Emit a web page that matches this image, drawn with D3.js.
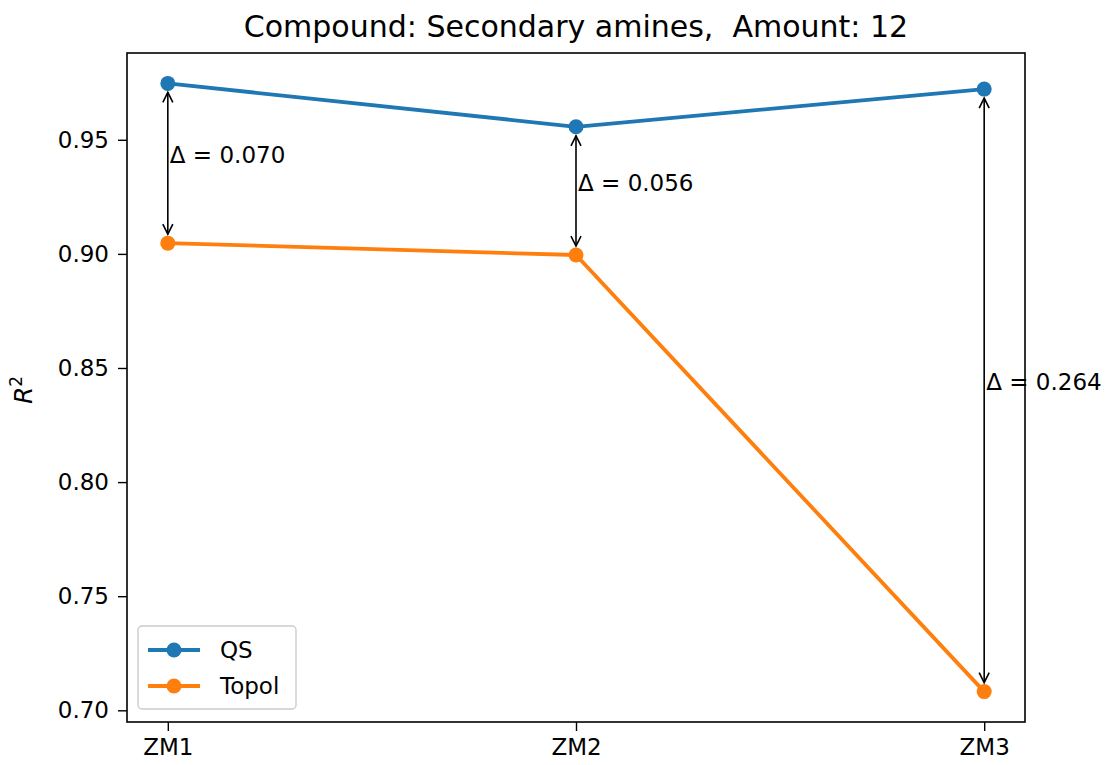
<!DOCTYPE html>
<html>
<head>
<meta charset="utf-8">
<script src="https://cdn.jsdelivr.net/npm/d3@7"></script>
<style>
  html, body { margin: 0; padding: 0; background: #fff; }
  svg { display: block; font-family: "DejaVu Sans", sans-serif; }
  text { white-space: pre; }
</style>
</head>
<body>
<svg id="chart" width="1105" height="765"></svg>
<script>
// Models compared along the x axis
const categories = ["ZM1", "ZM2", "ZM3"];
// R² per model for each descriptor set
const qsValues = [0.9747, 0.9557, 0.9722];
const topolValues = [0.9047, 0.8995, 0.7082];
const yTicks = [0.70, 0.75, 0.80, 0.85, 0.90, 0.95];
const titleText = "Compound: Secondary amines,  Amount: 12";

const series = [
  { name: "QS", values: qsValues, color: "#1f77b4" },
  { name: "Topol", values: topolValues, color: "#ff7f0e" }
];

const svg = d3.select("#chart");
const plotLeft = 127, plotRight = 1025, plotTop = 53, plotBottom = 722;

// x: category index with 5% padding on each side
const x = d3.scaleLinear().domain([-0.1, categories.length - 1 + 0.1]).range([plotLeft, plotRight]);

// y: data extent with 5% padding on each side
const all = qsValues.concat(topolValues);
const yMin = d3.min(all), yMax = d3.max(all), pad = (yMax - yMin) * 0.05;
const y = d3.scaleLinear().domain([yMin - pad, yMax + pad]).range([plotBottom, plotTop]);

// Axes
const xAxis = d3.axisBottom(x)
  .tickValues(categories.map((_, i) => i))
  .tickFormat(i => categories[i])
  .tickSize(9).tickPadding(8);
const yAxis = d3.axisLeft(y)
  .tickValues(yTicks)
  .tickFormat(d3.format(".2f"))
  .tickSize(9).tickPadding(9);

const gx = svg.append("g").attr("transform", `translate(0,${plotBottom})`).call(xAxis);
const gy = svg.append("g").attr("transform", `translate(${plotLeft},0)`).call(yAxis);
[gx, gy].forEach(g => {
  g.select(".domain").remove();
  g.selectAll(".tick line").attr("stroke", "#000").attr("stroke-width", 1.4);
  g.selectAll(".tick text").attr("fill", "#000").attr("font-size", 23)
    .attr("font-family", "DejaVu Sans, sans-serif");
});

// Series lines and markers
const line = d3.line().x((d, i) => x(i)).y(d => y(d));
series.forEach(s => {
  svg.append("path").datum(s.values)
    .attr("d", line).attr("fill", "none")
    .attr("stroke", s.color).attr("stroke-width", 3.8)
    .attr("stroke-linejoin", "round");
  svg.append("g").selectAll("circle").data(s.values).join("circle")
    .attr("cx", (d, i) => x(i)).attr("cy", d => y(d))
    .attr("r", 7.5).attr("fill", s.color);
});

// Difference arrows with labels
const headLen = 10, headHalf = 5, gap = 9;
categories.forEach((c, i) => {
  const xi = x(i);
  const yA = y(qsValues[i]) + gap;
  const yB = y(topolValues[i]) - gap;
  const g = svg.append("g").attr("stroke", "#000").attr("stroke-width", 1.6).attr("fill", "none");
  g.append("line").attr("x1", xi).attr("x2", xi).attr("y1", yA).attr("y2", yB);
  g.append("path").attr("d", `M${xi - headHalf},${yA + headLen}L${xi},${yA}L${xi + headHalf},${yA + headLen}`);
  g.append("path").attr("d", `M${xi - headHalf},${yB - headLen}L${xi},${yB}L${xi + headHalf},${yB - headLen}`);
  const delta = qsValues[i] - topolValues[i];
  svg.append("text")
    .attr("x", xi + 2)
    .attr("y", (y(qsValues[i]) + y(topolValues[i])) / 2)
    .attr("font-size", 23).attr("fill", "#000")
    .text("Δ = " + delta.toFixed(3));
});

// Plot frame
svg.append("rect")
  .attr("x", plotLeft).attr("y", plotTop)
  .attr("width", plotRight - plotLeft).attr("height", plotBottom - plotTop)
  .attr("fill", "none").attr("stroke", "#000").attr("stroke-width", 1.6);

// Title
svg.append("text")
  .attr("x", (plotLeft + plotRight) / 2).attr("y", 37)
  .attr("text-anchor", "middle").attr("font-size", 30).attr("fill", "#000")
  .text(titleText);

// Y-axis label: italic R with superscript 2
const yl = svg.append("text")
  .attr("transform", "translate(32,390) rotate(-90)")
  .attr("text-anchor", "middle").attr("font-size", 25).attr("fill", "#000");
yl.append("tspan").attr("font-style", "italic").text("R");
yl.append("tspan").attr("font-size", 17).attr("dy", -10).text("2");

// Legend
const lg = svg.append("g");
lg.append("rect")
  .attr("x", 138).attr("y", 626).attr("width", 158).attr("height", 83)
  .attr("rx", 4).attr("fill", "#fff").attr("fill-opacity", 0.8)
  .attr("stroke", "#cccccc").attr("stroke-width", 1.4);
series.forEach((s, k) => {
  const ly = 650 + k * 36;
  lg.append("line").attr("x1", 148).attr("x2", 200).attr("y1", ly).attr("y2", ly)
    .attr("stroke", s.color).attr("stroke-width", 3.8);
  lg.append("circle").attr("cx", 174).attr("cy", ly).attr("r", 7.5).attr("fill", s.color);
  lg.append("text").attr("x", 220).attr("y", ly + 8)
    .attr("font-size", 23).attr("fill", "#000").text(s.name);
});
</script>
</body>
</html>
